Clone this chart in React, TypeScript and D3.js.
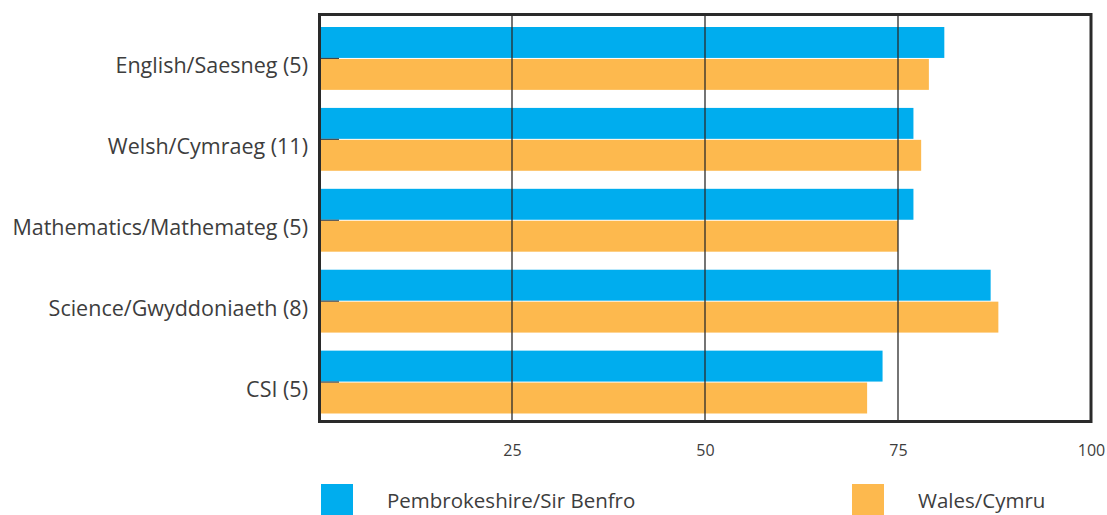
import { useEffect, useRef } from 'react';
import * as d3 from 'd3';

const subjects = [
  'English/Saesneg (5)',
  'Welsh/Cymraeg (11)',
  'Mathematics/Mathemateg (5)',
  'Science/Gwyddoniaeth (8)',
  'CSI (5)',
];
const seriesNames = ['Pembrokeshire/Sir Benfro', 'Wales/Cymru'];
const pembrokeshire = [81, 77, 77, 87, 73];
const wales = [79, 78, 75, 88, 71];
const xTicks = [25, 50, 75, 100];

const colors = ['#00adee', '#fdb94e'];

export default function App() {
  const svgRef = useRef<SVGSVGElement>(null);
  const width = 1107;
  const height = 515;

  useEffect(() => {
    if (!svgRef.current) return;

    const svg = d3.select(svgRef.current);
    svg.selectAll('*').remove();

    const font = '"Open Sans", sans-serif';
    const textColor = '#3d3d3d';

    const x = d3.scaleLinear().domain([0, 100]).range([319, 1091]);
    const y = d3.scaleBand()
      .domain(subjects)
      .range([27, 413.5])
      .paddingInner(0.223)
      .paddingOuter(0);

    const values = [pembrokeshire, wales];
    const half = y.bandwidth() / 2;

    // bars
    values.forEach((vals, si) => {
      svg.append('g')
        .selectAll('rect')
        .data(subjects)
        .enter().append('rect')
        .attr('x', x(0))
        .attr('y', d => y(d)! + si * half + (si === 1 ? 0.5 : 0))
        .attr('width', (d, i) => x(vals[i]) - x(0))
        .attr('height', half - 0.5)
        .attr('fill', colors[si]);
    });

    // gridlines
    svg.append('g')
      .selectAll('line')
      .data(xTicks.filter(t => t < 100))
      .enter().append('line')
      .attr('x1', d => x(d))
      .attr('x2', d => x(d))
      .attr('y1', 14)
      .attr('y2', 422)
      .attr('stroke', '#2a2a2a')
      .attr('stroke-width', 1.3);

    // y axis with short inward ticks
    const yAxis = svg.append('g')
      .attr('transform', `translate(${x(0) + 1},0)`)
      .call(d3.axisLeft(y).tickSizeInner(-19).tickSizeOuter(0).tickPadding(12));
    yAxis.select('.domain').remove();
    yAxis.selectAll('.tick line')
      .attr('stroke', '#444')
      .attr('stroke-width', 1.2);
    yAxis.selectAll('.tick text')
      .attr('dy', '0.32em')
      .attr('y', 8)
      .attr('fill', textColor)
      .style('font-family', font)
      .style('font-size', '21.5px');

    // x axis labels
    const xAxis = svg.append('g')
      .attr('transform', 'translate(0,422)')
      .call(d3.axisBottom(x).tickValues(xTicks).tickSize(0).tickPadding(23));
    xAxis.select('.domain').remove();
    xAxis.selectAll('.tick text')
      .attr('fill', textColor)
      .style('font-family', font)
      .style('font-size', '16px');

    // frame
    svg.append('rect')
      .attr('x', x(0) + 0.5)
      .attr('y', 14.5)
      .attr('width', x(100) - x(0) - 0.5)
      .attr('height', 407)
      .attr('fill', 'none')
      .attr('stroke', '#2a2a2a')
      .attr('stroke-width', 3);

    // legend
    const legendX = [321, 852];
    const legend = svg.append('g')
      .selectAll('g')
      .data(seriesNames)
      .enter().append('g')
      .attr('transform', (d, i) => `translate(${legendX[i]},484)`);
    legend.append('rect')
      .attr('width', 32)
      .attr('height', 32)
      .attr('fill', (d, i) => colors[i]);
    legend.append('text')
      .attr('x', 66)
      .attr('y', 24)
      .attr('fill', textColor)
      .style('font-family', font)
      .style('font-size', '20.5px')
      .text(d => d);
  }, []);

  return (
    <svg
      ref={svgRef}
      width={width}
      height={height}
      style={{ position: 'absolute', left: 0, top: 0, background: '#fff' }}
    />
  );
}
